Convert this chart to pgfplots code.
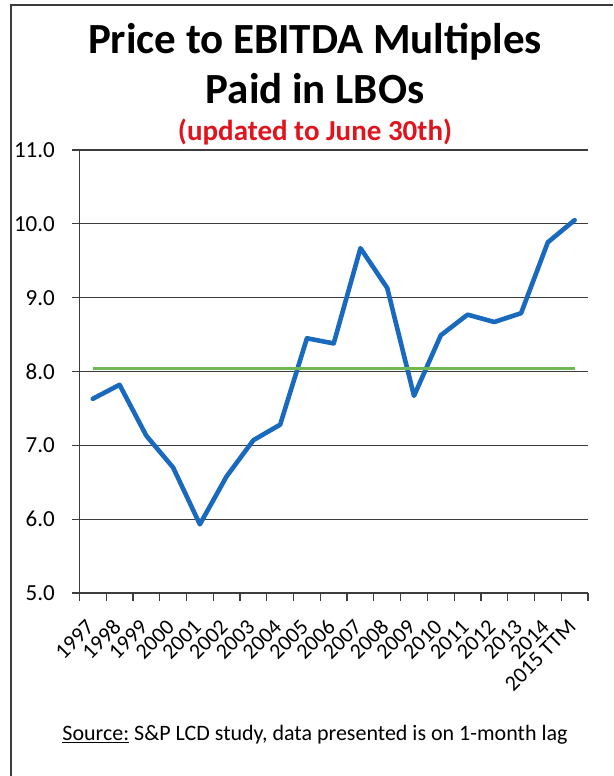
\documentclass[border=0pt]{standalone}
\usepackage{fontspec}
\setmainfont{Carlito}
\usepackage{pgfplots}
\pgfplotsset{compat=1.18}
\definecolor{lineblue}{RGB}{25,105,190}
\definecolor{avggreen}{RGB}{110,185,85}
\definecolor{gridgray}{RGB}{60,60,60}
\definecolor{titlered}{RGB}{225,20,30}

\begin{document}
\begin{tikzpicture}
\useasboundingbox (0pt,0pt) rectangle (613pt,776pt);
% page frame (top and left edges of the scanned box)
\draw[gridgray, line width=1.6pt] (11pt,0pt) -- (11pt,771pt) -- (613pt,771pt);
\node[anchor=base, font=\bfseries\fontsize{43}{47}\selectfont] at (315pt,722pt) {Price to EBITDA Multiples};
\node[anchor=base, font=\bfseries\fontsize{43}{47}\selectfont] at (315pt,672pt) {Paid in LBOs};
\node[anchor=base, font=\bfseries\fontsize{29}{33}\selectfont, text=titlered] at (315pt,635pt) {(updated to June 30th)};
\node[font=\fontsize{22}{26}\selectfont] at (315pt,41pt) {\underline{Source:}\ S\&P LCD study, data presented is on 1-month lag};

\begin{axis}[
  at={(79.4pt,183pt)}, anchor=south west,
  scale only axis, width=508.6pt, height=443pt,
  xmin=-0.5, xmax=18.5, ymin=5, ymax=11,
  axis lines*=left,
  axis line style={-, gridgray, line width=1.5pt},
  ytick={5,6,...,11},
  ymajorgrids, major grid style={gridgray, line width=1.3pt},
  xtick={0,...,18},
  xticklabels={1997,1998,1999,2000,2001,2002,2003,2004,2005,2006,2007,2008,2009,2010,2011,2012,2013,2014,2015 TTM},
  major x tick style={draw=none},
  minor xtick={-0.5,0.5,...,18.5},
  tick align=outside,
  major tick length=7pt, minor tick length=8pt,
  tick style={gridgray, line width=1.2pt},
  /pgf/number format/assume math mode=true,
  yticklabel style={font=\fontsize{23}{27}\selectfont, /pgf/number format/.cd, fixed, fixed zerofill, precision=1},
  yticklabel shift=14pt,
  xticklabel style={font=\fontsize{22}{26}\selectfont, rotate=45, anchor=east},
  xticklabel shift=21pt,
]
\addplot[lineblue, line width=4.6pt, line join=round, line cap=round] coordinates {
(0,7.63) (1,7.82) (2,7.13) (3,6.70) (4,5.93) (5,6.58) (6,7.07) (7,7.28) (8,8.45) (9,8.38)
(10,9.67) (11,9.13) (12,7.67) (13,8.49) (14,8.77) (15,8.67) (16,8.79) (17,9.75) (18,10.05)};
\addplot[avggreen, line width=3.8pt] coordinates {(0,8.04) (18,8.04)};
\end{axis}
\end{tikzpicture}
\end{document}
